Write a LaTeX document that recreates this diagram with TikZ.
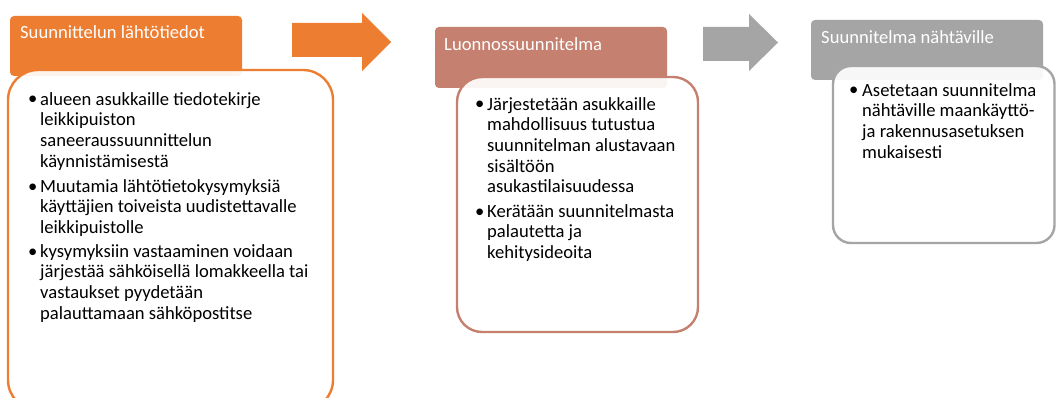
\documentclass[tikz,border=0pt]{standalone}
\usepackage{fontspec}
\setmainfont{Carlito}
\definecolor{orangeA}{HTML}{ED7D31}
\definecolor{salmonA}{HTML}{C5806F}
\definecolor{grayA}{HTML}{A5A5A5}
\newcommand{\fl}{\rule{0pt}{14pt}}
\begin{document}
\begin{tikzpicture}[x=1pt,y=-1pt,
  hdr/.style={rounded corners=4pt},
  bodybox/.style={fill=white, fill opacity=0.92, line width=2.4pt},
  htext/.style={text=white, font=\fontsize{18.6}{21}\selectfont, anchor=base west, inner sep=0pt},
  btext/.style={font=\fontsize{18.6}{20.7}\selectfont, anchor=north west, align=left, inner sep=0pt, text=black},
  bul/.style={font=\fontsize{18.6}{20.7}\selectfont, anchor=base west, inner sep=0pt, text=black},
  blockarrow/.style={draw=none}]
\clip (0,0) rectangle (1056,398);
\fill[white] (0,0) rectangle (1056,398);

% ---- stage 1
\fill[orangeA, hdr] (10,16) rectangle (242,76);
\node[htext] (h1) at (20,39) {Suunnittelun lähtötiedot};
\draw[orangeA, bodybox, rounded corners=30pt] (8,70) rectangle (333,410);
\node[bul] (b1a) at (28,105) {•};
\node[btext] (t1a) at (40,91) {\fl alueen asukkaille tiedotekirje\\leikkipuiston\\saneeraussuunnittelun\\käynnistämisestä};
\node[bul] (b1b) at (28,192) {•};
\node[btext] (t1b) at (40,178) {\fl Muutamia lähtötietokysymyksiä\\käyttäjien toiveista uudistettavalle\\leikkipuistolle};
\node[bul] (b1c) at (28,257) {•};
\node[btext] (t1c) at (40,243) {\fl kysymyksiin vastaaminen voidaan\\järjestää sähköisellä lomakkeella tai\\vastaukset pyydetään\\palauttamaan sähköpostitse};

% ---- arrow 1
\fill[orangeA, blockarrow] (292,23) -- (362,23) -- (362,13) -- (391,42) -- (362,71) -- (362,57) -- (292,57) -- cycle;

% ---- stage 2
\fill[salmonA, hdr] (435,27) rectangle (667,88);
\node[htext] (h2) at (444,51) {Luonnossuunnitelma};
\draw[salmonA, bodybox, rounded corners=25pt] (457,77) rectangle (698,332);
\node[bul] (b2a) at (475,110) {•};
\node[btext] (t2a) at (487,96) {\fl Järjestetään asukkaille\\mahdollisuus tutustua\\suunnitelman alustavaan\\sisältöön\\asukastilaisuudessa};
\node[bul] (b2b) at (475,217) {•};
\node[btext] (t2b) at (487,203) {\fl Kerätään suunnitelmasta\\palautetta ja\\kehitysideoita};

% ---- arrow 2
\fill[grayA, blockarrow] (703,27) -- (749,27) -- (749,14) -- (778,42.5) -- (749,71) -- (749,61) -- (703,61) -- cycle;

% ---- stage 3
\fill[grayA, hdr] (811,20) rectangle (1043,80);
\node[htext] (h3) at (821,44) {Suunnitelma nähtäville};
\draw[grayA, bodybox, rounded corners=18pt] (833,66) rectangle (1054.5,243);
\node[bul] (b3a) at (849,96) {•};
\node[btext] (t3a) at (862,82) {\fl Asetetaan suunnitelma\\nähtäville maankäyttö-\\ja rakennusasetuksen\\mukaisesti};
\end{tikzpicture}
\end{document}
